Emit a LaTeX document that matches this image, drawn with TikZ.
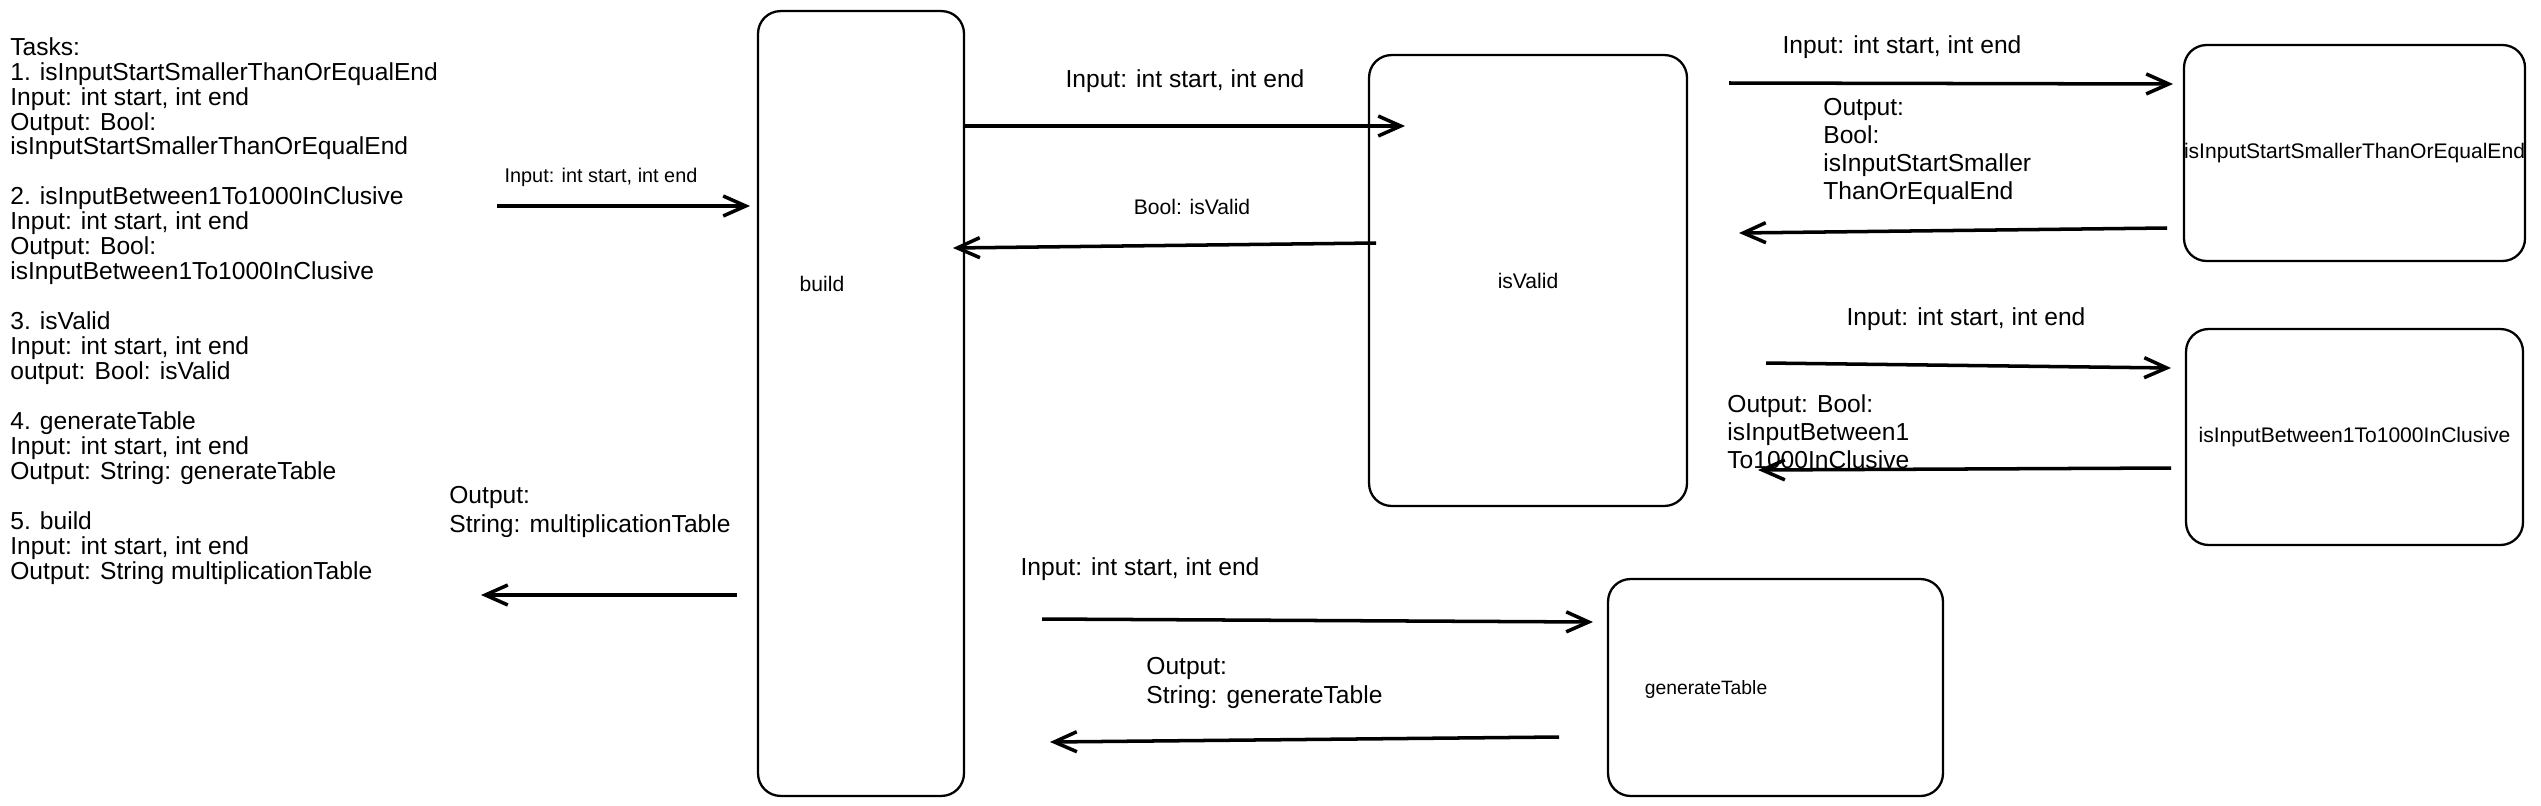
\documentclass[tikz,border=0pt]{standalone}
\usepackage{fontspec}
\setmainfont{Liberation Sans}
\usepackage{tikz}
\usetikzlibrary{arrows.meta,shapes}
\tikzstyle{box}=[draw,rounded corners=0.45cm,line width=1.3pt,inner sep=0pt]
\tikzstyle{edge}=[draw,line width=2pt,-{Straight Barb[length=0.45cm,width=0.4cm]}]
\tikzstyle{txt}=[font=\fontsize{14}{16}\selectfont,inner sep=0pt,align=left]
\tikzstyle{small}=[font=\fontsize{12}{14}\selectfont,inner sep=0pt]

\begin{document}
\begin{tikzpicture}[x=0.02cm,y=-0.02cm]
        \useasboundingbox (0,0) rectangle (2541,805);
        \node[txt,anchor=north west,font=\fontsize{14}{14.2}\selectfont] (tasks) at (10,37) {Tasks:\\
1. isInputStartSmallerThanOrEqualEnd\\
Input: int start, int end\\
Output: Bool:\\
isInputStartSmallerThanOrEqualEnd\\[14.2pt]
2. isInputBetween1To1000InClusive\\
Input: int start, int end\\
Output: Bool:\\
isInputBetween1To1000InClusive\\[14.2pt]
3. isValid\\
Input: int start, int end\\
output: Bool: isValid\\[14.2pt]
4. generateTable\\
Input: int start, int end\\
Output: String: generateTable\\[14.2pt]
5. build\\
Input: int start, int end\\
Output: String multiplicationTable};
        % boxes
        \node[box,minimum width=4.12cm,minimum height=15.7cm] (build) at (861,403.5) {};
        \node[small] (buildlbl) at (822,284) {build};
        \node[box,minimum width=6.36cm,minimum height=9.02cm,small] (valid) at (1528,280.5) {isValid};
        \node[box,minimum width=6.74cm,minimum height=4.32cm,small] (start) at (2354.5,153) {isInputStartSmallerThanOrEqualEnd};
        \node[box,minimum width=6.74cm,minimum height=4.32cm,small] (range) at (2354.5,437) {isInputBetween1To1000InClusive};
        \node[box,minimum width=6.70cm,minimum height=4.34cm] (table) at (1775.5,687.5) {};
        \node[small,font=\fontsize{11}{13}\selectfont] (tablelbl) at (1706,689) {generateTable};
        % arrow ends
        \coordinate (p1) at (497,206);  \coordinate (q1) at (750,206);
        \coordinate (p2) at (964,126);  \coordinate (q2) at (1405,126);
        \coordinate (p3) at (1376,243); \coordinate (q3) at (953,248);
        \coordinate (p4) at (737,595);  \coordinate (q4) at (481,595);
        \coordinate (p5) at (1042,619); \coordinate (q5) at (1593,622);
        \coordinate (p6) at (1559,737); \coordinate (q6) at (1050,742);
        \coordinate (p7) at (1729,83);  \coordinate (q7) at (2173,84);
        \coordinate (p8) at (2167,228); \coordinate (q8) at (1739,233);
        \coordinate (p9) at (1766,363); \coordinate (q9) at (2171,368);
        \coordinate (p10) at (2171,468); \coordinate (q10) at (1758,470);
        \draw[edge] (p1) to (q1);
        \draw[edge] (p2) to (q2);
        \draw[edge] (p3) to (q3);
        \draw[edge] (p4) to (q4);
        \draw[edge] (p5) to (q5);
        \draw[edge] (p6) to (q6);
        \draw[edge] (p7) to (q7);
        \draw[edge] (p8) to (q8);
        \draw[edge] (p9) to (q9);
        \draw[edge] (p10) to (q10);
        % labels
        \node[txt,font=\fontsize{11.3}{13}\selectfont] (l1) at (601,177) {Input: int start, int end};
        \node[txt] (l2) at (1185,81) {Input: int start, int end};
        \node[small] (l3) at (1192,207) {Bool: isValid};
        \node[txt,anchor=west] (l4) at (449,512) {Output:\\String: multiplicationTable};
        \node[txt] (l5) at (1140,569) {Input: int start, int end};
        \node[txt,anchor=west] (l6) at (1146,683) {Output:\\String: generateTable};
        \node[txt] (l7) at (1902,47) {Input: int start, int end};
        \node[txt,anchor=west] (l8) at (1823,151.5) {Output:\\Bool:\\isInputStartSmaller\\ThanOrEqualEnd};
        \node[txt] (l9) at (1966,319) {Input: int start, int end};
        \node[txt,anchor=west] (l10) at (1727,432) {Output: Bool:\\isInputBetween1\\To1000InClusive};
      \end{tikzpicture}
\end{document}
